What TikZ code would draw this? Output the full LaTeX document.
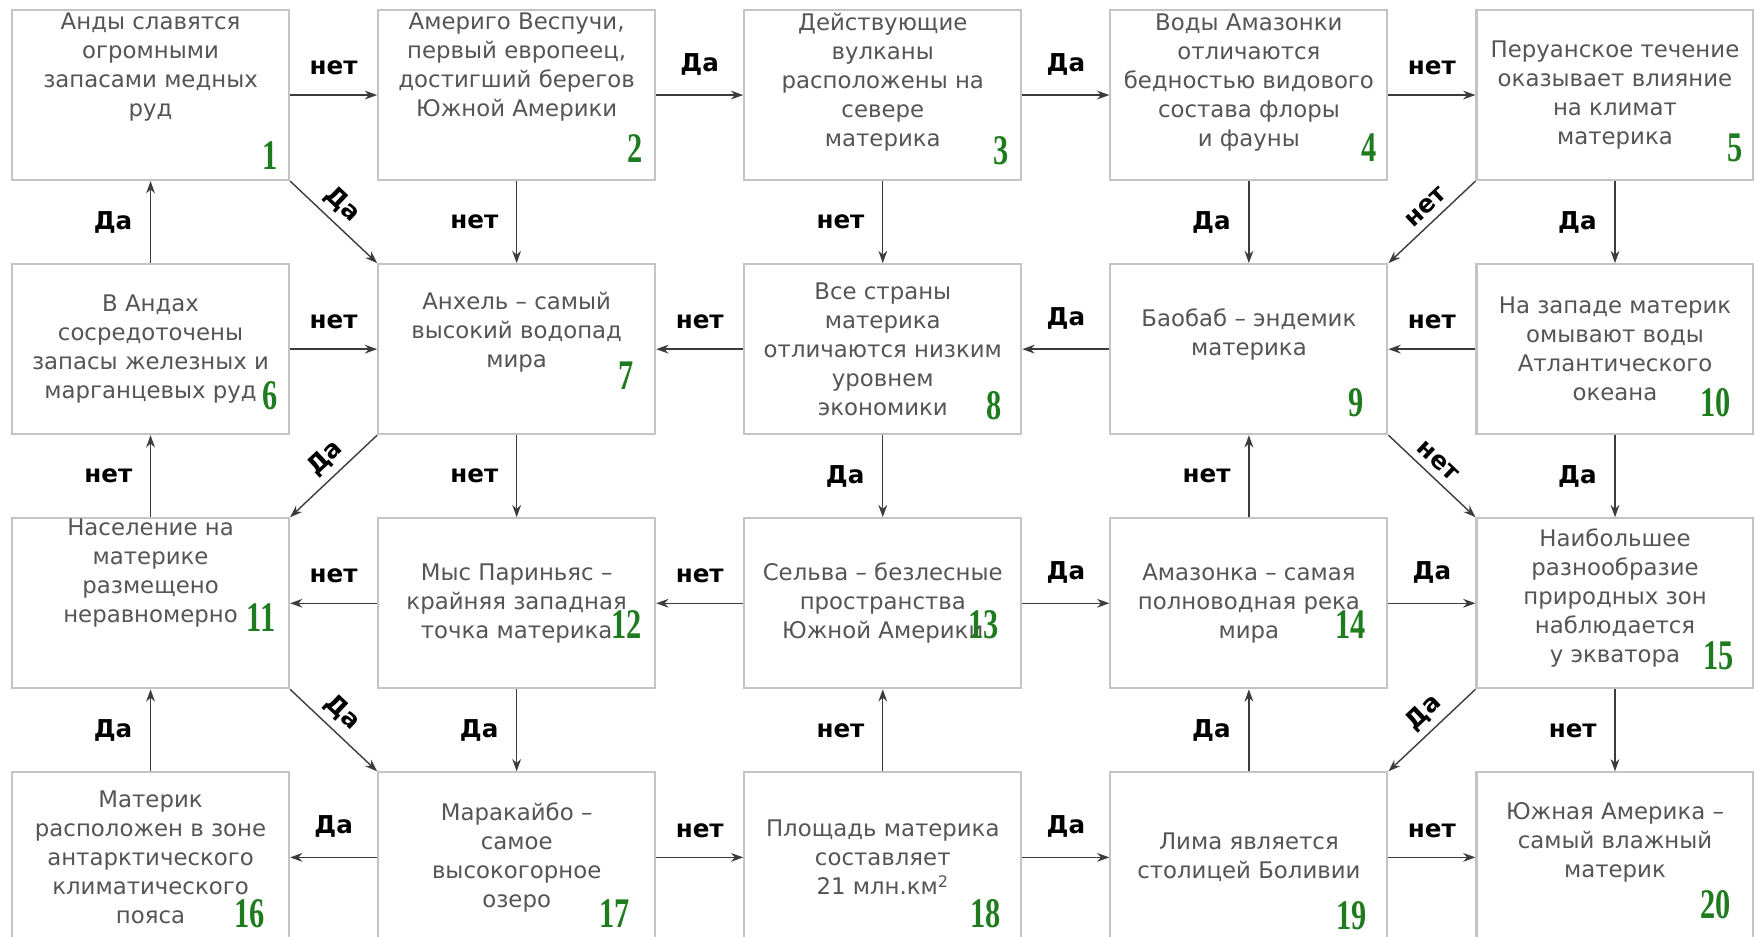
\documentclass[tikz,border=0pt]{standalone}
\usepackage{fontspec}
\setmainfont{DejaVu Sans}
\newfontfamily\numfont[FakeStretch=0.72]{Liberation Serif}
\usetikzlibrary{positioning,arrows.meta}
\definecolor{boxgray}{HTML}{C4C4C4}
\definecolor{txtgray}{HTML}{555555}
\definecolor{numgreen}{HTML}{1E7B1E}
\definecolor{arrgray}{HTML}{3C3C3C}

\begin{document}
\begin{tikzpicture}[node distance=1.64cm and 1.74cm,
  box/.style={draw=boxgray, line width=1.2pt, minimum width=5.54cm, minimum height=3.4cm, inner sep=0pt},
  txt/.style={text=txtgray, align=center, font=\fontsize{13}{16.5}\selectfont},
  num/.style={text=numgreen, font=\numfont\bfseries\fontsize{24}{24}\selectfont, inner sep=0pt},
  arr/.style={-{Stealth[length=7pt,width=5pt]}, draw=arrgray, line width=0.8pt},
  lbl/.style={font=\bfseries\fontsize{14}{14}\selectfont, inner sep=0pt}]

\fill[white] (0,0) rectangle (35.08,-18.74);
\useasboundingbox (0,0) rectangle (35.08,-18.74);

% boxes
\node[box, anchor=north west] (b1) at (0.22,-0.18) {};
\node[box, right=of b1] (b2) {};
\node[box, right=of b2] (b3) {};
\node[box, right=of b3] (b4) {};
\node[box, right=of b4] (b5) {};
\node[box, below=of b1] (b6) {};
\node[box, right=of b6] (b7) {};
\node[box, right=of b7] (b8) {};
\node[box, right=of b8] (b9) {};
\node[box, right=of b9] (b10) {};
\node[box, below=of b6] (b11) {};
\node[box, right=of b11] (b12) {};
\node[box, right=of b12] (b13) {};
\node[box, right=of b13] (b14) {};
\node[box, right=of b14] (b15) {};
\node[box, below=of b11] (b16) {};
\node[box, right=of b16] (b17) {};
\node[box, right=of b17] (b18) {};
\node[box, right=of b18] (b19) {};
\node[box, right=of b19] (b20) {};

% texts
\node[txt, yshift=0.56cm] (t1) at (b1) {Анды славятся\\огромными\\запасами медных\\руд};
\node[txt, yshift=0.56cm] (t2) at (b2) {Америго Веспучи,\\первый европеец,\\достигший берегов\\Южной Америки};
\node[txt, yshift=0.25cm] (t3) at (b3) {Действующие\\вулканы\\расположены на\\севере\\материка};
\node[txt, yshift=0.25cm] (t4) at (b4) {Воды Амазонки\\отличаются\\бедностью видового\\состава флоры\\и фауны};
\node[txt] (t5) at (b5) {Перуанское течение\\оказывает влияние\\на климат\\материка};
\node[txt] (t6) at (b6) {В Андах\\сосредоточены\\запасы железных и\\марганцевых руд};
\node[txt, yshift=0.34cm] (t7) at (b7) {Анхель – самый\\высокий водопад\\мира};
\node[txt] (t8) at (b8) {Все страны\\материка\\отличаются низким\\уровнем\\экономики};
\node[txt, yshift=0.29cm] (t9) at (b9) {Баобаб – эндемик\\материка};
\node[txt] (t10) at (b10) {На западе материк\\омывают воды\\Атлантического\\океана};
\node[txt, yshift=0.6cm] (t11) at (b11) {Население на\\материке\\размещено\\неравномерно};
\node[txt] (t12) at (b12) {Мыс Париньяс –\\крайняя западная\\точка материка};
\node[txt] (t13) at (b13) {Сельва – безлесные\\пространства\\Южной Америки};
\node[txt] (t14) at (b14) {Амазонка – самая\\полноводная река\\мира};
\node[txt, yshift=0.1cm] (t15) at (b15) {Наибольшее\\разнообразие\\природных зон\\наблюдается\\у экватора};
\node[txt] (t16) at (b16) {Материк\\расположен в зоне\\антарктического\\климатического\\пояса};
\node[txt] (t17) at (b17) {Маракайбо –\\самое\\высокогорное\\озеро};
\node[txt] (t18) at (b18) {Площадь материка\\составляет\\21 млн.км\textsuperscript{2}};
\node[txt] (t19) at (b19) {Лима является\\столицей Боливии};
\node[txt, yshift=0.29cm] (t20) at (b20) {Южная Америка –\\самый влажный\\материк};

% numbers
\node[num, xshift=-0.40cm, yshift=0.51cm] (n1) at (b1.south east) {1};
\node[num, xshift=-0.43cm, yshift=0.65cm] (n2) at (b2.south east) {2};
\node[num, xshift=-0.43cm, yshift=0.60cm] (n3) at (b3.south east) {3};
\node[num, xshift=-0.38cm, yshift=0.67cm] (n4) at (b4.south east) {4};
\node[num, xshift=-0.38cm, yshift=0.67cm] (n5) at (b5.south east) {5};
\node[num, xshift=-0.40cm, yshift=0.78cm] (n6) at (b6.south east) {6};
\node[num, xshift=-0.60cm, yshift=1.20cm] (n7) at (b7.south east) {7};
\node[num, xshift=-0.56cm, yshift=0.60cm] (n8) at (b8.south east) {8};
\node[num, xshift=-0.65cm, yshift=0.65cm] (n9) at (b9.south east) {9};
\node[num, xshift=-0.78cm, yshift=0.65cm] (n10) at (b10.south east) {10};
\node[num, xshift=-0.58cm, yshift=1.43cm] (n11) at (b11.south east) {11};
\node[num, xshift=-0.60cm, yshift=1.30cm] (n12) at (b12.south east) {12};
\node[num, xshift=-0.78cm, yshift=1.30cm] (n13) at (b13.south east) {13};
\node[num, xshift=-0.76cm, yshift=1.30cm] (n14) at (b14.south east) {14};
\node[num, xshift=-0.72cm, yshift=0.67cm] (n15) at (b15.south east) {15};
\node[num, xshift=-0.81cm, yshift=0.60cm] (n16) at (b16.south east) {16};
\node[num, xshift=-0.83cm, yshift=0.60cm] (n17) at (b17.south east) {17};
\node[num, xshift=-0.74cm, yshift=0.60cm] (n18) at (b18.south east) {18};
\node[num, xshift=-0.74cm, yshift=0.56cm] (n19) at (b19.south east) {19};
\node[num, xshift=-0.78cm, yshift=0.78cm] (n20) at (b20.south east) {20};

% row 1
\draw[arr] (b1) -- node[lbl, above=11pt] (l1) {нет} (b2);
\draw[arr] (b2) -- node[lbl, above=11pt] (l2) {Да} (b3);
\draw[arr] (b3) -- node[lbl, above=11pt] (l3) {Да} (b4);
\draw[arr] (b4) -- node[lbl, above=11pt] (l4) {нет} (b5);
% row 1 - row 2
\draw[arr] (b1.south east) -- node[lbl, sloped, above=4pt, pos=0.45] (l5) {Да} (b7.north west);
\draw[arr] (b2) -- node[lbl, left=10pt] (l6) {нет} (b7);
\draw[arr] (b3) -- node[lbl, left=10pt] (l7) {нет} (b8);
\draw[arr] (b4) -- node[lbl, left=10pt] (l8) {Да} (b9);
\draw[arr] (b5.south west) -- node[lbl, sloped, above=4pt, pos=0.45] (l9) {нет} (b9.north east);
\draw[arr] (b5) -- node[lbl, left=10pt] (l10) {Да} (b10);
\draw[arr] (b6) -- node[lbl, left=10pt] (l11) {Да} (b1);
% row 2
\draw[arr] (b6) -- node[lbl, above=11pt] (l12) {нет} (b7);
\draw[arr] (b8) -- node[lbl, above=11pt] (l13) {нет} (b7);
\draw[arr] (b9) -- node[lbl, above=11pt] (l14) {Да} (b8);
\draw[arr] (b10) -- node[lbl, above=11pt] (l15) {нет} (b9);
% row 2 - row 3
\draw[arr] (b7.south west) -- node[lbl, sloped, above=4pt, pos=0.45] (l16) {Да} (b11.north east);
\draw[arr] (b7) -- node[lbl, left=10pt] (l17) {нет} (b12);
\draw[arr] (b8) -- node[lbl, left=10pt] (l18) {Да} (b13);
\draw[arr] (b14) -- node[lbl, left=10pt] (l19) {нет} (b9);
\draw[arr] (b9.south east) -- node[lbl, sloped, above=4pt, pos=0.45] (l20) {нет} (b15.north west);
\draw[arr] (b10) -- node[lbl, left=10pt] (l21) {Да} (b15);
\draw[arr] (b11) -- node[lbl, left=10pt] (l22) {нет} (b6);
% row 3
\draw[arr] (b12) -- node[lbl, above=11pt] (l23) {нет} (b11);
\draw[arr] (b13) -- node[lbl, above=11pt] (l24) {нет} (b12);
\draw[arr] (b13) -- node[lbl, above=11pt] (l25) {Да} (b14);
\draw[arr] (b14) -- node[lbl, above=11pt] (l26) {Да} (b15);
% row 3 - row 4
\draw[arr] (b11.south east) -- node[lbl, sloped, above=4pt, pos=0.45] (l27) {Да} (b17.north west);
\draw[arr] (b12) -- node[lbl, left=10pt] (l28) {Да} (b17);
\draw[arr] (b18) -- node[lbl, left=10pt] (l29) {нет} (b13);
\draw[arr] (b19) -- node[lbl, left=10pt] (l30) {Да} (b14);
\draw[arr] (b15.south west) -- node[lbl, sloped, above=4pt, pos=0.45] (l31) {Да} (b19.north east);
\draw[arr] (b15) -- node[lbl, left=10pt] (l32) {нет} (b20);
\draw[arr] (b16) -- node[lbl, left=10pt] (l33) {Да} (b11);
% row 4
\draw[arr] (b17) -- node[lbl, above=11pt] (l34) {Да} (b16);
\draw[arr] (b17) -- node[lbl, above=11pt] (l35) {нет} (b18);
\draw[arr] (b18) -- node[lbl, above=11pt] (l36) {Да} (b19);
\draw[arr] (b19) -- node[lbl, above=11pt] (l37) {нет} (b20);
\end{tikzpicture}
\end{document}
